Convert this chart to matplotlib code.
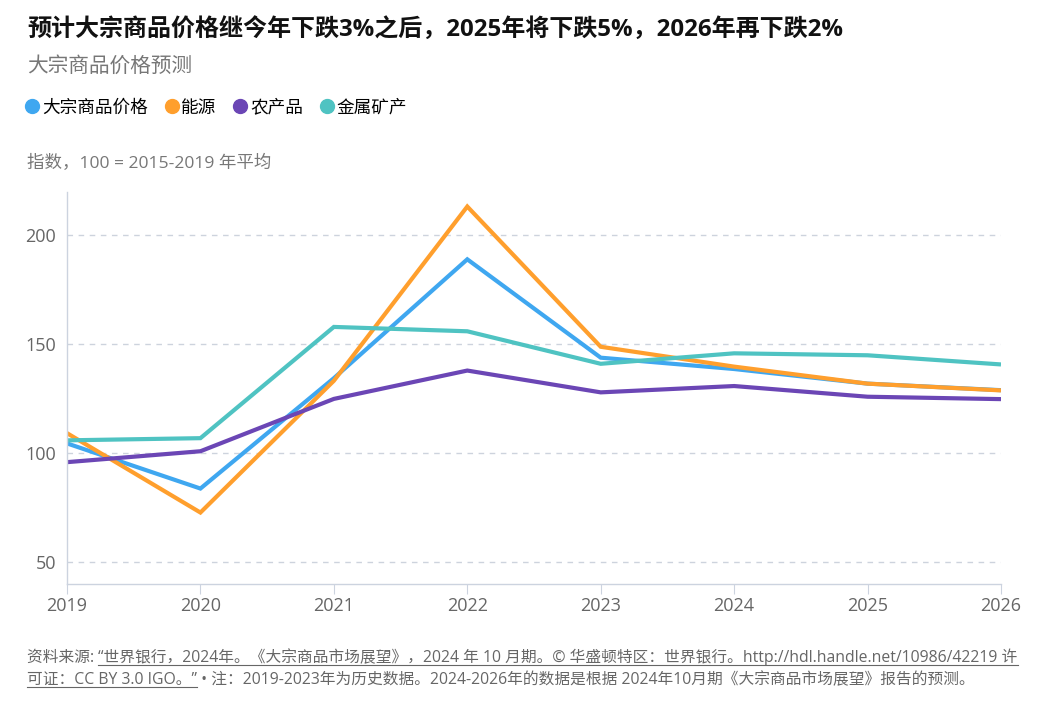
import matplotlib
matplotlib.use("Agg")
import matplotlib.pyplot as plt
from matplotlib.lines import Line2D

plt.rcParams['font.family'] = ['Open Sans', 'Noto Sans CJK SC', 'DejaVu Sans']

years = [2019, 2020, 2021, 2022, 2023, 2024, 2025, 2026]
series_names = ["大宗商品价格", "能源", "农产品", "金属矿产"]
commodity = [104.6, 83.9, 134.5, 189.0, 143.9, 138.7, 132.0, 129.0]
energy = [109.3, 72.9, 133.3, 213.2, 148.9, 139.8, 132.0, 128.9]
agriculture = [96.0, 101.0, 125.0, 138.0, 128.0, 130.9, 126.0, 124.9]
metals = [106.0, 107.0, 158.0, 156.0, 141.1, 145.9, 145.0, 140.8]
colors = ["#3fa7f0", "#ff9f2d", "#6b46b5", "#4fc3c2"]
yticks = [50, 100, 150, 200]

title = "预计大宗商品价格继今年下跌3%之后，2025年将下跌5%，2026年再下跌2%"
subtitle = "大宗商品价格预测"
axis_title = "指数，100 = 2015-2019 年平均"
src_label = "资料来源: "
src_link1 = "“世界银行，2024年。《大宗商品市场展望》，2024 年 10 月期。© 华盛顿特区：世界银行。http://hdl.handle.net/10986/42219 许"
src_link2 = "可证：CC BY 3.0 IGO。”"
src_note = " • 注：2019-2023年为历史数据。2024-2026年的数据是根据 2024年10月期《大宗商品市场展望》报告的预测。"

W, H = 1045, 704
fig = plt.figure(figsize=(W / 100, H / 100), dpi=100)
ax = fig.add_axes([67 / W, 1 - 584.3 / H, (1001 - 67) / W, (584.3 - 191.7) / H])

for vals, c in zip([commodity, energy, agriculture, metals], colors):
    ax.plot(years, vals, color=c, lw=3, solid_joinstyle='miter', solid_capstyle='butt', clip_on=True)

ax.set_xlim(2019, 2026)
ax.set_ylim(40, 220)
ax.set_yticks(yticks)
ax.set_xticks(years)
ax.grid(axis='y', color='#cdd3dd', lw=1, ls=(0, (4, 4)))
ax.set_axisbelow(True)
for s in ['top', 'right']:
    ax.spines[s].set_visible(False)
for s in ['left', 'bottom']:
    ax.spines[s].set_color('#ccd3df')
    ax.spines[s].set_linewidth(1)
ax.tick_params(axis='y', length=0, pad=8, labelsize=13, labelcolor='#666666')
ax.tick_params(axis='x', length=7, color='#ccd3df', pad=2, labelsize=13, labelcolor='#666666')

fig.text(27 / W, 1 - 31 / H, title, fontsize=17.3, fontweight='bold', color='#111111', va='center', ha='left')
fig.text(27 / W, 1 - 66 / H, subtitle, fontsize=14.9, color='#777777', va='center', ha='left')
fig.text(27 / W, 1 - 163 / H, axis_title, fontsize=12.6, color='#777777', va='center', ha='left')

handles = [Line2D([], [], marker='o', ls='', markersize=10, markerfacecolor=c, markeredgecolor=c) for c in colors]
fig.legend(handles, series_names, loc='center left', bbox_to_anchor=(27 / W, 1 - 107.5 / H), ncol=4,
           frameon=False, fontsize=12.7, handlelength=0.6, handletextpad=0.25, columnspacing=1.05,
           borderpad=0, borderaxespad=0)

foot_kw = dict(fontsize=11.3, color='#666666', va='baseline', ha='left')
y1 = 1 - 662 / H
y2 = 1 - 684 / H
t0 = fig.text(27 / W, y1, src_label, **foot_kw)
fig.canvas.draw()
r = fig.canvas.get_renderer()
bb0 = t0.get_window_extent(r)
t1 = fig.text(bb0.x1 / W, y1, src_link1, **foot_kw)
t2 = fig.text(27 / W, y2, src_link2, **foot_kw)
fig.canvas.draw()
bb1 = t1.get_window_extent(r)
bb2 = t2.get_window_extent(r)
t3 = fig.text(bb2.x1 / W, y2, src_note, **foot_kw)
for bb, yy in [(bb1, y1), (bb2, y2)]:
    fig.add_artist(Line2D([bb.x0 / W, bb.x1 / W], [yy - 2.5 / H, yy - 2.5 / H], color='#666666', lw=0.8))

fig.savefig("out.png", dpi=100, facecolor='white')
